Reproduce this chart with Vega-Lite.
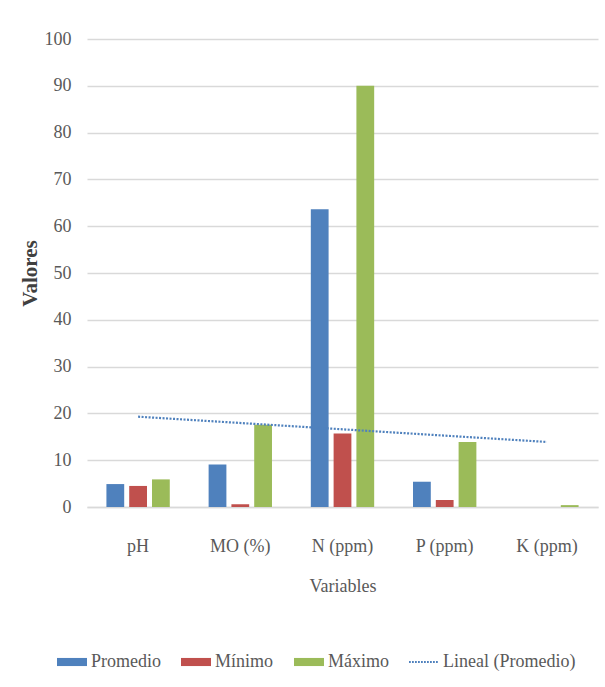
{
  "$schema": "https://vega.github.io/schema/vega-lite/v6.json",
  "autosize": {"type": "none"},
  "padding": {"left": 87, "top": 39, "right": 7, "bottom": 180},
  "width": 511,
  "height": 468,
  "background": "white",
  "datasets": {
    "barras": [
      {"variable": "pH", "serie": "Promedio", "valor": 4.9},
      {"variable": "pH", "serie": "Mínimo", "valor": 4.5},
      {"variable": "pH", "serie": "Máximo", "valor": 5.9},
      {"variable": "MO (%)", "serie": "Promedio", "valor": 9.1},
      {"variable": "MO (%)", "serie": "Mínimo", "valor": 0.6},
      {"variable": "MO (%)", "serie": "Máximo", "valor": 17.6},
      {"variable": "N (ppm)", "serie": "Promedio", "valor": 63.6},
      {"variable": "N (ppm)", "serie": "Mínimo", "valor": 15.7},
      {"variable": "N (ppm)", "serie": "Máximo", "valor": 90},
      {"variable": "P (ppm)", "serie": "Promedio", "valor": 5.4},
      {"variable": "P (ppm)", "serie": "Mínimo", "valor": 1.5},
      {"variable": "P (ppm)", "serie": "Máximo", "valor": 13.9},
      {"variable": "K (ppm)", "serie": "Promedio", "valor": 0},
      {"variable": "K (ppm)", "serie": "Mínimo", "valor": 0},
      {"variable": "K (ppm)", "serie": "Máximo", "valor": 0.4}
    ],
    "tendencia": [
      {"variable": "pH", "valor": 19.3},
      {"variable": "K (ppm)", "valor": 13.9}
    ]
  },
  "layer": [
    {
      "data": {"name": "barras"},
      "mark": {"type": "bar"},
      "encoding": {
        "x": {
          "field": "variable",
          "type": "nominal",
          "sort": ["pH", "MO (%)", "N (ppm)", "P (ppm)", "K (ppm)"],
          "scale": {"paddingInner": 0.38, "paddingOuter": 0.19},
          "axis": {
            "title": "Variables",
            "labelAngle": 0,
            "ticks": false,
            "domainColor": "#D9D9D9",
            "domainWidth": 1.5,
            "labelPadding": 30,
            "titlePadding": 22
          }
        },
        "xOffset": {
          "field": "serie",
          "type": "nominal",
          "sort": ["Promedio", "Mínimo", "Máximo"],
          "scale": {"paddingInner": 0.22, "paddingOuter": 0}
        },
        "y": {
          "field": "valor",
          "type": "quantitative",
          "scale": {"domain": [0, 100]},
          "axis": {
            "title": "Valores",
            "values": [0, 10, 20, 30, 40, 50, 60, 70, 80, 90, 100],
            "grid": true,
            "gridColor": "#D9D9D9",
            "gridWidth": 1.5,
            "domain": false,
            "ticks": false,
            "labelPadding": 16,
            "titleFontWeight": "bold",
            "titleFontSize": 21,
            "titleColor": "#404040",
            "titlePadding": 4
          }
        },
        "color": {
          "field": "serie",
          "type": "nominal",
          "scale": {
            "domain": ["Promedio", "Mínimo", "Máximo", "Lineal (Promedio)"],
            "range": ["#4F81BD", "#C0504D", "#9BBB59", "#4F81BD"]
          },
          "legend": {
            "title": null,
            "orient": "none",
            "direction": "horizontal",
            "legendX": -30,
            "legendY": 608,
            "symbolSize": 900,
            "labelOffset": 4,
            "columnPadding": 20,
            "encode": {
              "symbols": {
                "update": {
                  "shape": {
                    "signal": "datum.value === 'Lineal (Promedio)' ? 'M-1,-0.06h0.12v0.12h-0.12z M-0.8,-0.06h0.12v0.12h-0.12z M-0.6,-0.06h0.12v0.12h-0.12z M-0.4,-0.06h0.12v0.12h-0.12z M-0.2,-0.06h0.12v0.12h-0.12z M0,-0.06h0.12v0.12h-0.12z M0.2,-0.06h0.12v0.12h-0.12z M0.4,-0.06h0.12v0.12h-0.12z M0.6,-0.06h0.12v0.12h-0.12z M0.8,-0.06h0.12v0.12h-0.12z' : 'M-1,-0.27H1V0.27H-1Z'"
                  },
                  "strokeWidth": {"value": 0}
                }
              }
            }
          }
        }
      }
    },
    {
      "data": {"name": "tendencia"},
      "mark": {
        "type": "line",
        "strokeWidth": 2.2,
        "strokeDash": [2, 1.5]
      },
      "encoding": {
        "x": {
          "field": "variable",
          "type": "nominal",
          "sort": ["pH", "MO (%)", "N (ppm)", "P (ppm)", "K (ppm)"]
        },
        "y": {"field": "valor", "type": "quantitative"},
        "color": {"datum": "Lineal (Promedio)"}
      }
    }
  ],
  "config": {
    "font": "Times New Roman, Liberation Serif, serif",
    "view": {"stroke": null},
    "axis": {
      "labelFont": "Times New Roman, Liberation Serif, serif",
      "labelFontSize": 18,
      "labelColor": "#595959",
      "titleFont": "Times New Roman, Liberation Serif, serif",
      "titleFontSize": 18,
      "titleFontWeight": "normal",
      "titleColor": "#595959"
    },
    "legend": {
      "labelFont": "Times New Roman, Liberation Serif, serif",
      "labelFontSize": 18,
      "labelColor": "#595959"
    }
  }
}
